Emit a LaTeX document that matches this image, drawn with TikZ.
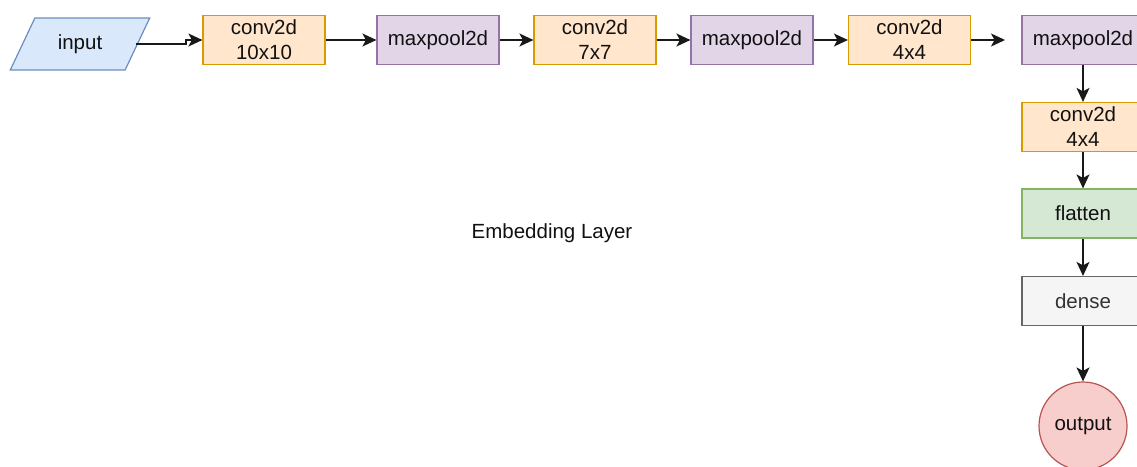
\documentclass[tikz,border=0pt]{standalone}
\usepackage{fontspec}
\setmainfont{Liberation Sans}
\usetikzlibrary{shapes.geometric,arrows.meta}

\definecolor{blueF}{HTML}{DAE8FC}\definecolor{blueD}{HTML}{6C8EBF}
\definecolor{orangeF}{HTML}{FFE6CC}\definecolor{orangeD}{HTML}{D79B00}
\definecolor{purpleF}{HTML}{E1D5E7}\definecolor{purpleD}{HTML}{9673A6}
\definecolor{greenF}{HTML}{D5E8D4}\definecolor{greenD}{HTML}{82B366}
\definecolor{grayF}{HTML}{F5F5F5}\definecolor{grayD}{HTML}{666666}
\definecolor{grayT}{HTML}{333333}
\definecolor{redF}{HTML}{F8CECC}\definecolor{redD}{HTML}{B85450}
\definecolor{txt}{HTML}{111111}

\begin{document}
\begin{tikzpicture}[x=1pt,y=-1pt,
  every node/.style={font=\fontsize{20.5}{25}\selectfont, text=txt, align=center},
  layerbox/.style={draw, line width=1.2pt, minimum width=122pt, minimum height=49pt, inner sep=0pt},
  convbox/.style={layerbox, fill=orangeF, draw=orangeD},
  poolbox/.style={layerbox, fill=purpleF, draw=purpleD},
  flatbox/.style={layerbox, fill=greenF, draw=greenD},
  densebox/.style={layerbox, fill=grayF, draw=grayD, text=grayT},
  inbox/.style={draw=blueD, fill=blueF, line width=1.2pt, shape=trapezium,
    trapezium left angle=57.6, trapezium right angle=122.4, trapezium stretches=true,
    minimum width=140pt, minimum height=52pt, inner sep=0pt},
  outbox/.style={circle, draw=redD, fill=redF, line width=1.2pt, minimum size=88pt, inner sep=0pt},
  link/.style={line width=1.4pt, draw=black!90, -{Stealth[length=14pt,width=13pt,inset=3.5pt]}}
]
\useasboundingbox (0,0) rectangle (1137,466);

% top row
\node[inbox]   (in) at (80,44) {input};
\node[convbox] (c1) at (264,40) {conv2d\\10x10};
\node[poolbox] (m1) at (438,40) {maxpool2d};
\node[convbox] (c2) at (595,40) {conv2d\\7x7};
\node[poolbox] (m2) at (752,40) {maxpool2d};
\node[convbox] (c3) at (909.5,40) {conv2d\\4x4};
\node[poolbox] (m3) at (1083,40) {maxpool2d};
\coordinate (gap) at (1005,40);

% right column
\node[convbox]  (c4) at (1083,127) {conv2d\\4x4};
\node[flatbox]  (fl) at (1083,213.5) {flatten};
\node[densebox] (de) at (1083,301) {dense};
\node[outbox]   (out) at (1083,426) {output};

% caption
\node (cap) at (552,233) {Embedding Layer};

% connectors
\draw[link] ([xshift=-2pt]in.east) -- ++(50,0) |- (c1.west);
\draw[link] (c1) -- (m1);
\draw[link] (m1) -- (c2);
\draw[link] (c2) -- (m2);
\draw[link] (m2) -- (c3);
\draw[link] (c3) -- (gap);
\draw[link] (m3) -- (c4);
\draw[link] (c4) -- (fl);
\draw[link] (fl) -- (de);
\draw[link] (de) -- (out);
\end{tikzpicture}
\end{document}
